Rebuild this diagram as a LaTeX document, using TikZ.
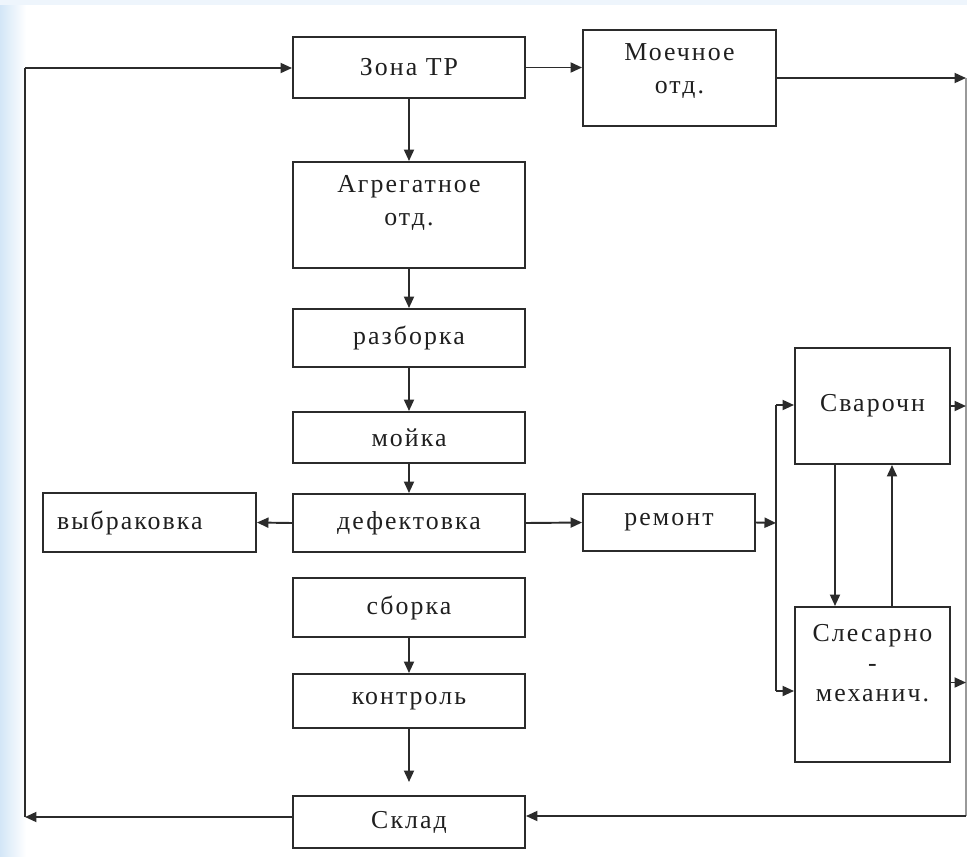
\documentclass[tikz,border=0pt]{standalone}
\usepackage{fontspec}
\setmainfont{Liberation Serif}[LetterSpace=8]
\usetikzlibrary{arrows.meta,calc}
\newdimen\pxu \pxu=0.02cm
\definecolor{ln}{HTML}{2B2B2B}
\definecolor{bgblue}{HTML}{D3E6F7}
\definecolor{bgtop}{HTML}{EEF5FC}
\tikzset{
  lbl/.style={font=\fontsize{14.7pt}{18.7pt}\selectfont, text=black!88},
  box/.style={draw=ln, line width=1.1pt, fill=white, inner sep=0pt, align=center, lbl},
  arr/.style={draw=ln, line width=1.1pt, -{Triangle[length=2.3mm,width=2mm]}},
  ln/.style={draw=ln, line width=1.1pt},
  thin/.style={draw=black!40, line width=0.6pt}
}
\begin{document}
\begin{tikzpicture}[x=0.02cm, y=-0.02cm]
\useasboundingbox (0,0) rectangle (967,856);
% background
\fill[white] (0,0) rectangle (967,856);
\shade[left color=bgblue, right color=white] (0,0) rectangle (26,856);
\fill[bgtop] (0,0) rectangle (967,5);
% nodes
\node[box, minimum width=232\pxu, minimum height=61\pxu] (zona) at (409,67.5) {Зона ТР};
\node[box, minimum width=193\pxu, minimum height=96\pxu] (moech) at (679.5,78) {};
\node[lbl, align=center, inner sep=0pt] (moecht) at (679.5,71) {Моечное\\отд.};
\node[box, minimum width=232\pxu, minimum height=106\pxu] (agr) at (409,215) {};
\node[lbl, align=center, inner sep=0pt] (agrt) at (409,203) {Агрегатное\\отд.};
\node[box, minimum width=232\pxu, minimum height=58\pxu] (razb) at (409,338) {разборка};
\node[box, minimum width=232\pxu, minimum height=51\pxu] (moika) at (409,437.5) {мойка};
\node[box, minimum width=232\pxu, minimum height=58\pxu] (defekt) at (409,523) {дефектовка};
\node[box, minimum width=232\pxu, minimum height=59\pxu] (sborka) at (409,607.5) {сборка};
\node[box, minimum width=232\pxu, minimum height=54\pxu] (kontrol) at (409,701) {контроль};
\node[box, minimum width=232\pxu, minimum height=52\pxu] (sklad) at (409,822) {Склад};
\node[box, minimum height=59\pxu, text width=185\pxu, inner xsep=14\pxu, align=left] (vybr) at (149.5,522.5) {выбраковка};
\node[box, minimum width=172\pxu, minimum height=57\pxu] (remont) at (669,522.5) {ремонт};
\node[box, minimum width=155\pxu, minimum height=116\pxu] (svar) at (872.5,406) {Сварочн};
\node[box, minimum width=155\pxu, minimum height=155\pxu] (sles) at (872.5,684.5) {};
\node[lbl, font=\fontsize{14.7pt}{17pt}\selectfont, align=center, inner sep=0pt] (slest) at (872.5,663) {Слесарно\\-\\механич.};
% coordinates
\coordinate (L1) at (25,817);
\coordinate (L2) at (25,68);
\coordinate (R1) at (966,78);
\coordinate (R2) at (966,816);
\coordinate (V1) at (776,405);
\coordinate (V2) at (776,691);
\coordinate (VM) at (776,523);
\coordinate (KS) at (409,782);
% connectors
\draw[arr] (zona.east) -- (zona.east -| moech.west);
\draw[arr] (moech.east) -- (R1);
\draw[thin] (R1) -- (R2);
\draw[arr] (R2) -- (R2 -| sklad.east);
\draw[arr] (zona.south) -- (agr.north);
\draw[arr] (agr.south) -- (razb.north);
\draw[arr] (razb.south) -- (moika.north);
\draw[arr] (moika.south) -- (defekt.north);
\draw[arr] (sborka.south) -- (kontrol.north);
\draw[arr] (kontrol.south) -- (KS);
\draw[arr] (L1 -| sklad.west) -- (L1);
\draw[ln] (L1) -- (L2);
\draw[arr] (L2) -- (L2 -| zona.west);
\draw[arr] (defekt.west) -- (vybr.east);
\draw[arr] (defekt.east) -- (remont.west);
\draw[arr] (remont.east) -- (VM);
\draw[ln] (V1) -- (V2);
\draw[arr] (V1) -- (V1 -| svar.west);
\draw[arr] (V2) -- (V2 -| sles.west);
\draw[arr] (svar.east) -- (svar.east -| R1);
\draw[arr] ([yshift=2\pxu]sles.east) -- ([yshift=2\pxu]sles.east -| R1);
\draw[arr] ([xshift=-37.5\pxu]svar.south) -- ([xshift=-37.5\pxu]sles.north);
\draw[arr] ([xshift=19.5\pxu]sles.north) -- ([xshift=19.5\pxu]svar.south);
\end{tikzpicture}
\end{document}
